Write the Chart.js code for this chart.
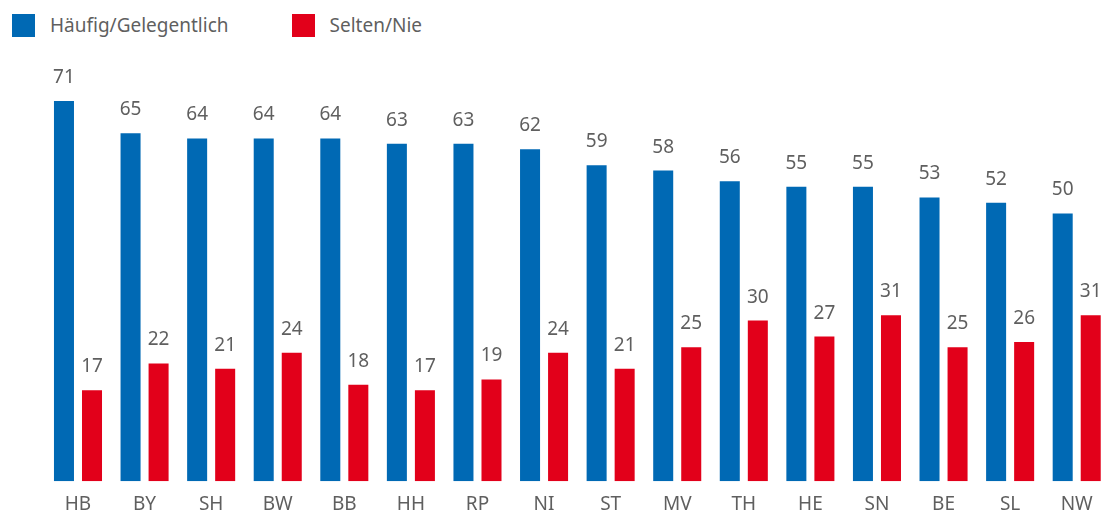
<!DOCTYPE html>
<html>
<head>
<meta charset="utf-8">
<script src="https://cdn.jsdelivr.net/npm/chart.js@4/dist/chart.umd.min.js"></script>
<style>
  body { margin: 0; background: #fff; overflow: hidden; font-family: "Noto Sans", sans-serif; }
  .legend { position: absolute; top: 12px; left: 12px; display: flex; align-items: center; color: #5f5f5f; font-size: 19px; }
  .legend span.box { display: inline-block; width: 23px; height: 23px; margin-right: 15px; }
  .legend .item { display: flex; align-items: center; margin-right: 63px; }
  .wrap { position: absolute; top: 0; left: 0; width: 1110px; height: 530px; }
</style>
</head>
<body>
<div class="legend">
  <div class="item"><span class="box" style="background:#0069b4"></span>Häufig/Gelegentlich</div>
  <div class="item"><span class="box" style="background:#e2001a"></span>Selten/Nie</div>
</div>
<div class="wrap"><canvas id="chart"></canvas></div>
<script>
const categories = ["HB", "BY", "SH", "BW", "BB", "HH", "RP", "NI", "ST", "MV", "TH", "HE", "SN", "BE", "SL", "NW"];
const oftenValues = [71, 65, 64, 64, 64, 63, 63, 62, 59, 58, 56, 55, 55, 53, 52, 50];
const rarelyValues = [17, 22, 21, 24, 18, 17, 19, 24, 21, 25, 30, 27, 31, 25, 26, 31];

const valueLabels = {
  id: "valueLabels",
  afterDatasetsDraw(chart) {
    const ctx = chart.ctx;
    ctx.save();
    ctx.font = "19px 'Noto Sans', sans-serif";
    ctx.fillStyle = "#5f5f5f";
    ctx.textAlign = "center";
    ctx.textBaseline = "alphabetic";
    chart.data.datasets.forEach((ds, i) => {
      chart.getDatasetMeta(i).data.forEach((bar, j) => {
        ctx.fillText(ds.data[j], bar.x, bar.y - 18);
      });
    });
    ctx.restore();
  }
};

new Chart(document.getElementById("chart"), {
  type: "bar",
  data: {
    labels: categories,
    datasets: [
      { label: "Häufig/Gelegentlich", data: oftenValues, backgroundColor: "#0069b4" },
      { label: "Selten/Nie", data: rarelyValues, backgroundColor: "#e2001a" }
    ]
  },
  options: {
    responsive: true,
    maintainAspectRatio: false,
    animation: false,
    layout: { padding: { left: 44.7, right: 0, top: 52.8, bottom: 2 } },
    datasets: { bar: { categoryPercentage: 0.842, barPercentage: 0.714 } },
    plugins: { legend: { display: false }, tooltip: { enabled: false } },
    scales: {
      x: {
        grid: { display: false, drawTicks: false },
        border: { display: false },
        ticks: { color: "#5f5f5f", font: { family: "'Noto Sans', sans-serif", size: 19 }, padding: 12 }
      },
      y: { display: false, min: 0, max: 80 }
    }
  },
  plugins: [valueLabels]
});
</script>
</body>
</html>
